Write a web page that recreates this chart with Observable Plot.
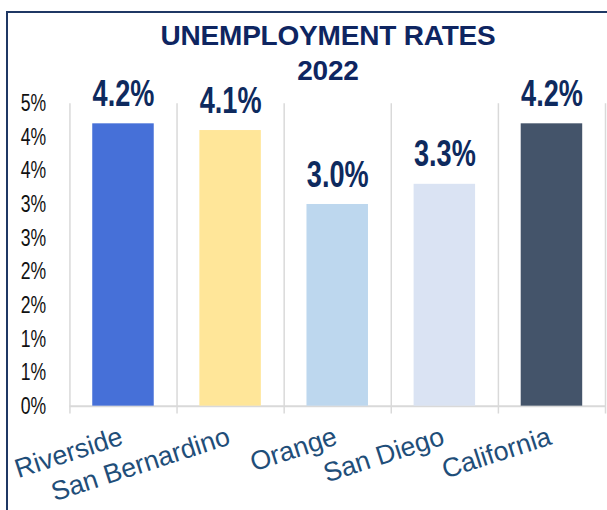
<!DOCTYPE html>
<html>
<head>
<meta charset="utf-8">
<script src="https://cdn.jsdelivr.net/npm/d3@7"></script>
<script src="https://cdn.jsdelivr.net/npm/@observablehq/plot@0.6"></script>
<style>
  html, body { margin: 0; padding: 0; overflow: hidden; background: #fff; width: 607px; height: 510px; }
  #frame { position: absolute; left: 6px; top: 11px; width: 700px; height: 600px;
           border-left: 2px solid #1f3864; border-top: 2px solid #1f3864; box-sizing: border-box; }
  #title { position: absolute; left: 0; top: 18px; width: 656px; text-align: center;
           font-family: "Liberation Sans", Arial, sans-serif; font-weight: bold; font-size: 28px;
           line-height: 35px; color: #0e2561; letter-spacing: -0.2px; }
  #chart { position: absolute; left: 0; top: 0; }
</style>
</head>
<body>
<div id="frame"></div>
<div id="chart"></div>
<div id="title">UNEMPLOYMENT RATES<br>2022</div>
<script>
const categories = ["Riverside", "San Bernardino", "Orange", "San Diego", "California"];
const rates = [4.2, 4.1, 3.0, 3.3, 4.2];
const valueLabels = ["4.2%", "4.1%", "3.0%", "3.3%", "4.2%"];
const barColors = ["#4670d8", "#ffe699", "#bdd7ee", "#dae3f3", "#44546a"];
const yTicks = [0, 0.5, 1, 1.5, 2, 2.5, 3, 3.5, 4, 4.5];

const data = categories.map((c, i) => ({cat: c, i, rate: rates[i], label: valueLabels[i], color: barColors[i]}));
const boundaries = d3.range(categories.length + 1);

const sans = "'Liberation Sans', Arial, sans-serif";

const plot = Plot.plot({
  width: 612,
  height: 510,
  marginLeft: 70,
  marginRight: 2,
  marginTop: 104,
  marginBottom: 101,
  style: {background: "transparent", overflow: "visible"},
  x: {domain: [0, categories.length], axis: null},
  y: {domain: [0, 4.5], axis: null},
  marks: [
    Plot.ruleX(boundaries, {x: d => d, y1: 4.5, y2: 0, stroke: "#d9d9d9", strokeWidth: 1.5, insetBottom: -8}),
    Plot.ruleY([0], {stroke: "#d9d9d9", strokeWidth: 2}),
    Plot.rectY(data, {x1: d => d.i, x2: d => d.i + 1, y1: 0, y2: "rate", fill: "color", insetLeft: 23, insetRight: 23}),
    Plot.text(data, {x: d => d.i + 0.5, y: "rate", text: "label", lineAnchor: "bottom", dy: -18,
      fontSize: 38, fontWeight: "bold", fontFamily: sans, fill: "#0e2a5e", className: "vlabel"}),
    Plot.axisY({ticks: yTicks, tickFormat: d => Math.round(d) + "%", tickSize: 0, tickPadding: 24,
      fontSize: 24, fontFamily: sans, color: "#111", label: null, className: "ytick"}),
    Plot.text(data, {x: d => d.i + 0.5, y: 0, text: "cat", rotate: -18, textAnchor: "end", lineAnchor: "bottom",
      dy: 38, dx: 1, fontSize: 27, fontFamily: sans, fill: "#1f4e79"})
  ]
});
// condense the value labels and y tick labels (the reference uses a narrow typeface)
plot.querySelectorAll(".vlabel text").forEach(t => {
  t.setAttribute("transform", (t.getAttribute("transform") || "") + " scale(0.72,1)");
});
plot.querySelectorAll(".ytick text").forEach(t => {
  t.setAttribute("transform", (t.getAttribute("transform") || "") + " scale(0.74,1)");
});
document.getElementById("chart").appendChild(plot);
</script>
</body>
</html>
